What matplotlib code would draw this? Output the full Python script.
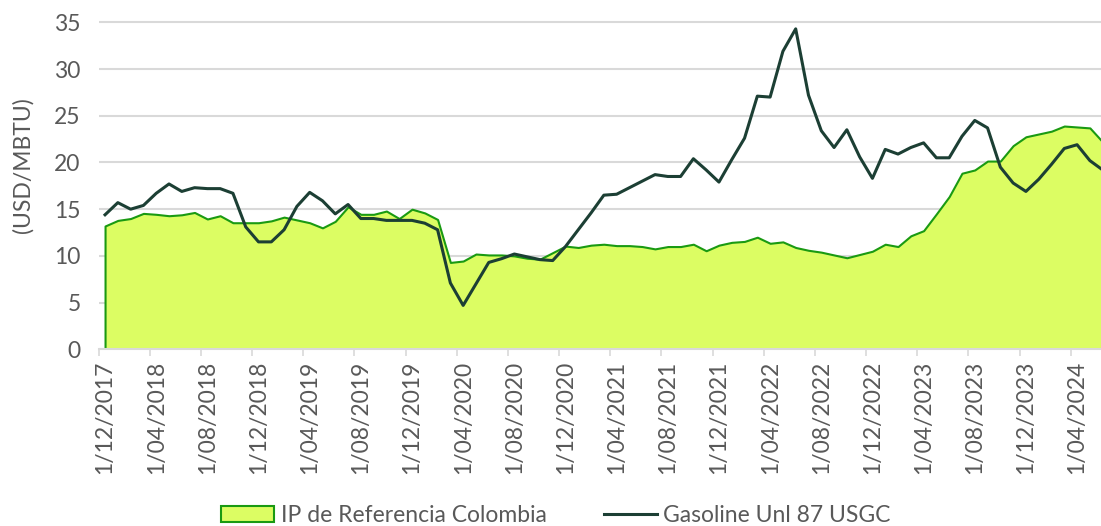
import numpy as np
import pandas as pd
import matplotlib
matplotlib.use("Agg")
import matplotlib.pyplot as plt
from matplotlib.ticker import FixedLocator

plt.rcParams['font.family'] = ['Lato', 'DejaVu Sans']

# monthly series, Dec-2017 .. Jun-2024 (USD/MBTU)
months = pd.date_range("2017-12-01", periods=79, freq="MS")

ip_colombia = [
    13.2, 13.8, 14.0, 14.55, 14.45, 14.3, 14.4, 14.65, 13.95, 14.3,
    13.55, 13.55, 13.55, 13.75, 14.15, 13.85, 13.55, 13.0, 13.7, 15.25,
    14.45, 14.45, 14.8, 14.0, 15.0, 14.6, 13.9, 9.3, 9.45, 10.2,
    10.1, 10.1, 10.0, 9.75, 9.65, 10.35, 11.05, 10.9, 11.15, 11.25,
    11.1, 11.1, 11.0, 10.75, 11.0, 11.0, 11.25, 10.55, 11.15, 11.45,
    11.55, 12.0, 11.35, 11.5, 10.9, 10.6, 10.4, 10.1, 9.8, 10.15,
    10.5, 11.25, 11.0, 12.15, 12.7, 14.5, 16.35, 18.85, 19.2, 20.15,
    20.15, 21.8, 22.75, 23.05, 23.35, 23.9, 23.8, 23.7, 22.2,
]

gasoline_usgc = [
    14.4, 15.7, 15.0, 15.4, 16.7, 17.7, 16.9, 17.3, 17.2, 17.2,
    16.7, 13.1, 11.5, 11.5, 12.8, 15.3, 16.8, 15.9, 14.5, 15.5,
    14.0, 14.0, 13.8, 13.8, 13.8, 13.5, 12.8, 7.1, 4.7, 7.0,
    9.3, 9.7, 10.2, 9.9, 9.6, 9.5, 11.0, 12.8, 14.6, 16.5,
    16.6, 17.3, 18.0, 18.7, 18.5, 18.5, 20.4, 19.2, 17.9, 20.3,
    22.6, 27.1, 27.0, 31.9, 34.3, 27.2, 23.4, 21.6, 23.5, 20.6,
    18.3, 21.4, 20.9, 21.6, 22.1, 20.5, 20.5, 22.8, 24.5, 23.7,
    19.5, 17.8, 16.9, 18.2, 19.8, 21.5, 21.9, 20.2, 19.2,
]

month_labels = [f"{d.day}/{d.month:02d}/{d.year}" for d in months]
y_ticks = [0, 5, 10, 15, 20, 25, 30, 35]

FILL = "#dcfd63"
EDGE = "#1a9a12"
DARK = "#1c3f34"
GRID = "#d9d9d9"
TEXT = "#595959"
FS = 16.5

fig = plt.figure(figsize=(11.01, 5.26), dpi=100)
ax = fig.add_axes([0.0896, 0.3359, 0.9104, 0.6394])

x = np.arange(len(months))
ax.fill_between(x, ip_colombia, 0, facecolor=FILL, edgecolor=EDGE,
                linewidth=1.5, label="IP de Referencia Colombia", zorder=2)
ax.plot(x, gasoline_usgc, color=DARK, linewidth=2.2,
        label="Gasoline Unl 87 USGC", zorder=3)

ax.set_xlim(-0.5, 77.87)
ax.set_ylim(0, 36)

ax.set_yticks(y_ticks)
ax.set_yticklabels([str(v) for v in y_ticks])
ax.yaxis.grid(True, color=GRID, linewidth=1.5, zorder=0)
ax.set_axisbelow(True)

# labels on every 4th category, tick marks on the category boundaries
ax.set_xticks(x[::4])
ax.set_xticklabels(month_labels[::4], rotation=90, va="top", ha="center")
ax.xaxis.set_minor_locator(FixedLocator(np.arange(-0.5, 78, 4)))
ax.tick_params(axis="x", which="major", length=0, pad=8.5,
               labelsize=FS, labelcolor=TEXT)
ax.tick_params(axis="x", which="minor", length=5, width=1.2, color=GRID,
               direction="out")
ax.tick_params(axis="y", length=0, pad=13, labelsize=FS, labelcolor=TEXT)

for side in ("top", "right", "left"):
    ax.spines[side].set_visible(False)
ax.spines["bottom"].set_color(GRID)
ax.spines["bottom"].set_linewidth(1.5)
ax.spines["bottom"].set_zorder(4)

fig.text(0.021, 0.686, "(USD/MBTU)", rotation=90, ha="center", va="center",
         fontsize=FS, color=TEXT)

handles, labels = ax.get_legend_handles_labels()
fig.legend(handles, labels, loc="center", bbox_to_anchor=(0.505, 0.02),
           ncol=2, frameon=False, fontsize=FS, labelcolor=TEXT,
           handlelength=2.3, handletextpad=0.3, columnspacing=2.5,
           borderpad=0)

fig.savefig("out.png", dpi=100)
